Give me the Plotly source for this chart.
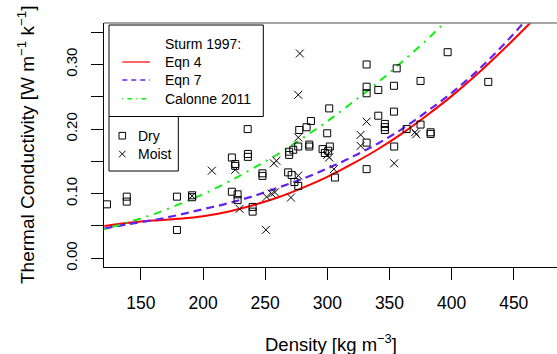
import plotly.graph_objects as go

# ---------------- data ----------------
dry_density = [122.7, 138.6, 138.6, 179, 179, 191.2, 191.2, 223.2, 225.9, 225.9,
               236.1, 236.1, 235.9, 223.2, 227.8, 227.8, 239.9, 239.9, 247.8, 247.8,
               268.5, 271.3, 273.5, 276.6, 269.3, 269.3, 272.6, 276.6, 277.4, 283.3,
               286.8, 285.5, 285.5, 301.5, 299.9, 296.2, 302, 300.7, 298, 306.1,
               331.6, 331.6, 331.6, 341, 341, 346.3, 346.3, 346.3, 353.6, 355.8,
               353.6, 331.6, 331.6, 353.8, 363.8, 375, 375, 383.1, 383.1, 396.8, 429.5]
dry_k = [0.0835, 0.0954, 0.0877, 0.0954, 0.0438, 0.0975, 0.0945, 0.156, 0.146, 0.143,
         0.1615, 0.157, 0.200, 0.103, 0.099, 0.090, 0.0795, 0.0722, 0.1315, 0.1275,
         0.133, 0.129, 0.118, 0.112, 0.165, 0.160, 0.168, 0.173, 0.1986, 0.2028,
         0.2125, 0.176, 0.173, 0.232, 0.1935, 0.169, 0.173, 0.1665, 0.163, 0.125,
         0.300, 0.2656, 0.2554, 0.2605, 0.2207, 0.208, 0.203, 0.1986, 0.267, 0.294,
         0.227, 0.179, 0.138, 0.173, 0.200, 0.2745, 0.207, 0.195, 0.1925, 0.319, 0.273]

moist_density = [191.2, 207.1, 225.9, 229.4, 250.6, 251.1, 255.2, 257.8, 257, 259,
                 270.7, 276.6, 276.6, 277.9, 276.6, 299.9, 301.5, 305.3, 326.8, 326.8,
                 331.6, 353.8, 370.5, 371.5]
moist_k = [0.0965, 0.1357, 0.137, 0.0765, 0.044, 0.095, 0.100, 0.102, 0.147, 0.151,
           0.094, 0.128, 0.187, 0.317, 0.253, 0.160, 0.156, 0.138, 0.191, 0.174,
           0.2115, 0.147, 0.195, 0.192]

eqn4_x = [120.5, 135, 150, 165, 180, 200, 220, 240, 260, 280, 300, 320, 340, 360, 380, 400, 420, 440, 460, 470]
eqn4_y = [0.050, 0.054, 0.057, 0.059, 0.061, 0.065, 0.072, 0.082, 0.094, 0.109, 0.126, 0.146,
          0.168, 0.193, 0.221, 0.251, 0.284, 0.320, 0.358, 0.378]

eqn7_x = [120.5, 140, 160, 180, 200, 220, 240, 260, 280, 300, 320, 340, 360, 380, 400, 420, 440, 460]
eqn7_y = [0.046, 0.053, 0.059, 0.067, 0.076, 0.085, 0.096, 0.109, 0.123, 0.139, 0.157, 0.177,
          0.200, 0.227, 0.256, 0.289, 0.327, 0.369]

cal_x = [120.5, 140, 160, 180, 200, 220, 240, 260, 280, 300, 320, 340, 360, 380, 400]
cal_y = [0.045, 0.056, 0.068, 0.083, 0.099, 0.118, 0.139, 0.161, 0.186, 0.212, 0.241, 0.271,
         0.304, 0.338, 0.376]

x_ticks = [150, 200, 250, 300, 350, 400, 450]
y_ticks = [0.00, 0.05, 0.10, 0.15, 0.20, 0.25, 0.30, 0.35]
y_ticktext = ["0.00", "", "0.10", "", "0.20", "", "0.30", ""]

# ---------------- styling ----------------
RED = "#ff0000"
BLUE = "#6422f0"
GREEN = "#11ee11"
FONT = "Liberation Sans, Arial, sans-serif"

W_FIG, H_FIG = 557, 354
L, T, R, B = 104, 23, 0, 87
PW, PH = W_FIG - L - R, H_FIG - T - B


def fx(px):
    return (px - L) / PW


def fy(py):
    return (T + PH - py) / PH


fig = go.Figure()

fig.add_trace(go.Scatter(x=eqn4_x, y=eqn4_y, mode="lines", line=dict(color=RED, width=2, shape="spline"),
                         showlegend=False))
fig.add_trace(go.Scatter(x=eqn7_x, y=eqn7_y, mode="lines",
                         line=dict(color=BLUE, width=2.2, dash="8px,5px", shape="spline"), showlegend=False))
fig.add_trace(go.Scatter(x=cal_x, y=cal_y, mode="lines",
                         line=dict(color=GREEN, width=2, dash="2px,6px,8px,6px", shape="spline"),
                         showlegend=False))
fig.add_trace(go.Scatter(x=dry_density, y=dry_k, mode="markers",
                         marker=dict(symbol="square-open", size=7, color="black", line=dict(width=1)),
                         showlegend=False))
fig.add_trace(go.Scatter(x=moist_density, y=moist_k, mode="markers",
                         marker=dict(symbol="x-thin-open", size=8, color="black", line=dict(width=1, color="black")),
                         showlegend=False))

shapes = []
# top border (greyish)
shapes.append(dict(type="line", xref="paper", yref="paper", x0=0, x1=1, y0=1, y1=1,
                   line=dict(color="#888888", width=1.5)))
# legend boxes
shapes.append(dict(type="rect", xref="paper", yref="paper", x0=fx(109), x1=fx(263.3), y0=fy(116.5), y1=fy(25),
                   line=dict(color="black", width=1), fillcolor="white", layer="above"))
shapes.append(dict(type="rect", xref="paper", yref="paper", x0=fx(109), x1=fx(178.3), y0=fy(171), y1=fy(116.5),
                   line=dict(color="black", width=1), fillcolor="white", layer="above"))
# legend line samples
for py, col, dash, w in [(62, RED, "solid", 1.2), (80, BLUE, "5px,4px", 1.5), (98.7, GREEN, "1px,4px,5px,4px", 1.5)]:
    shapes.append(dict(type="line", xref="paper", yref="paper", x0=fx(122.3), x1=fx(150), y0=fy(py), y1=fy(py),
                       line=dict(color=col, width=w, dash=dash), layer="above"))
# legend symbols
cx, s = 122.3, 3.3
shapes.append(dict(type="rect", xref="paper", yref="paper", x0=fx(cx - s), x1=fx(cx + s), y0=fy(135.7 + s),
                   y1=fy(135.7 - s), line=dict(color="black", width=1), layer="above"))
cy = 154
shapes.append(dict(type="line", xref="paper", yref="paper", x0=fx(cx - s), x1=fx(cx + s), y0=fy(cy - s),
                   y1=fy(cy + s), line=dict(color="black", width=1), layer="above"))
shapes.append(dict(type="line", xref="paper", yref="paper", x0=fx(cx - s), x1=fx(cx + s), y0=fy(cy + s),
                   y1=fy(cy - s), line=dict(color="black", width=1), layer="above"))

annotations = []
for txt, py in [("Sturm 1997:", 44), ("Eqn 4", 62), ("Eqn 7", 80), ("Calonne 2011", 98.7)]:
    annotations.append(dict(text=txt, xref="paper", yref="paper", x=fx(162.5), y=fy(py), xanchor="left",
                            yanchor="middle", showarrow=False, font=dict(size=14, color="black", family=FONT)))
for txt, py in [("Dry", 135.7), ("Moist", 154)]:
    annotations.append(dict(text=txt, xref="paper", yref="paper", x=fx(135.5), y=fy(py), xanchor="left",
                            yanchor="middle", showarrow=False, font=dict(size=14, color="black", family=FONT)))
# axis titles
annotations.append(dict(text="Density [kg m<sup>\u22123</sup>]", xref="paper", yref="paper", x=fx(331), y=fy(343),
                        xanchor="center", yanchor="middle", showarrow=False,
                        font=dict(size=18.5, color="black", family=FONT)))
annotations.append(dict(text="Thermal Conductivity [W m<sup>\u22121</sup> k<sup>\u22121</sup>]", xref="paper",
                        yref="paper", x=fx(26), y=fy(145), xanchor="center", yanchor="middle", textangle=-90,
                        showarrow=False, font=dict(size=19, color="black", family=FONT)))

fig.update_layout(
    width=W_FIG, height=H_FIG,
    margin=dict(l=L, r=R, t=T, b=B, pad=0),
    paper_bgcolor="white", plot_bgcolor="white",
    font=dict(family=FONT, color="black"),
    shapes=shapes, annotations=annotations,
    showlegend=False,
    xaxis=dict(range=[120.3, 484.8], tickvals=x_ticks, ticks="outside", ticklen=12, tickwidth=1,
               tickcolor="black", showline=True, linecolor="black", linewidth=1.2, showgrid=False,
               zeroline=False, ticklabelstandoff=8,
               tickfont=dict(size=17.5, family=FONT, color="black")),
    yaxis=dict(range=[-0.0135, 0.3642], tickvals=y_ticks, ticktext=y_ticktext, ticks="outside", ticklen=12,
               tickwidth=1, tickcolor="black", showline=True, linecolor="black", linewidth=1.2,
               showgrid=False, zeroline=False, tickangle=-90, ticklabelstandoff=8,
               tickfont=dict(size=15, family=FONT, color="black")),
)

fig.write_html("out.html", config={"displayModeBar": False},
               post_script="document.body.style.margin='0';document.body.style.overflow='hidden';")
